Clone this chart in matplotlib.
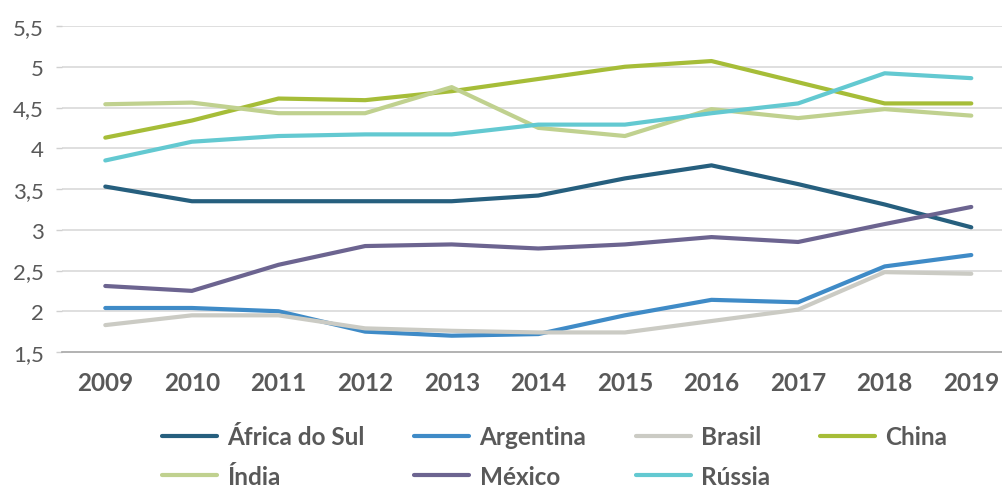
import matplotlib
matplotlib.use("Agg")
import matplotlib.pyplot as plt

plt.rcParams['font.family'] = ['Lato', 'DejaVu Sans']

years = ['2009', '2010', '2011', '2012', '2013', '2014', '2015', '2016', '2017', '2018', '2019']

africa_do_sul = [3.53, 3.35, 3.35, 3.35, 3.35, 3.42, 3.63, 3.79, 3.56, 3.31, 3.03]
argentina = [2.04, 2.04, 2.00, 1.75, 1.70, 1.72, 1.95, 2.14, 2.11, 2.55, 2.69]
brasil = [1.83, 1.95, 1.95, 1.79, 1.76, 1.74, 1.74, 1.88, 2.02, 2.48, 2.46]
china = [4.13, 4.34, 4.61, 4.59, 4.70, 4.85, 5.00, 5.07, 4.81, 4.55, 4.55]
india = [4.54, 4.56, 4.43, 4.43, 4.75, 4.25, 4.15, 4.48, 4.37, 4.48, 4.40]
mexico = [2.31, 2.25, 2.57, 2.80, 2.82, 2.77, 2.82, 2.91, 2.85, 3.07, 3.28]
russia = [3.85, 4.08, 4.15, 4.17, 4.17, 4.29, 4.29, 4.43, 4.55, 4.92, 4.86]

series = [
    ('África do Sul', africa_do_sul, '#265f7e'),
    ('Argentina', argentina, '#3f8bc7'),
    ('Brasil', brasil, '#cbcbc4'),
    ('China', china, '#a6bd38'),
    ('Índia', india, '#c0d18f'),
    ('México', mexico, '#6c6490'),
    ('Rússia', russia, '#63c9d1'),
]

y_ticks = [1.5, 2, 2.5, 3, 3.5, 4, 4.5, 5, 5.5]
y_labels = ['1,5', '2', '2,5', '3', '3,5', '4', '4,5', '5', '5,5']

W, H = 1003, 489
fig = plt.figure(figsize=(W / 100, H / 100), dpi=100)
ax_left, ax_right, ax_top, ax_bottom = 62, 1003, 27, 353
ax = fig.add_axes([ax_left / W, 1 - ax_bottom / H, (ax_right - ax_left) / W, (ax_bottom - ax_top) / H])

x = list(range(len(years)))
lines = {}
for name, vals, color in series:
    ln, = ax.plot(x, vals, color=color, lw=3.0, solid_capstyle='round', solid_joinstyle='round',
                  label=name, zorder=3)
    lines[name] = ln

ax.set_ylim(1.5, 5.5)
ax.set_xlim(-0.5, -0.5 + (ax_right - ax_left) / 86.6)
ax.set_yticks(y_ticks)
ax.set_yticklabels(y_labels)
ax.set_xticks(x)
ax.set_xticklabels(years)

for v in y_ticks[1:]:
    ax.axhline(v, color='#d9d9d9', lw=1.2, zorder=1)

for side in ['top', 'right', 'left']:
    ax.spines[side].set_visible(False)
ax.spines['bottom'].set_color('#a6a6a6')
ax.spines['bottom'].set_linewidth(1.2)

ax.tick_params(axis='y', length=4, width=1, color='#d0d0d0', pad=9,
               labelsize=16, labelcolor='#595959')
ax.tick_params(axis='x', length=0, pad=14, labelsize=17.5, labelcolor='#595959')
for lbl in ax.get_xticklabels():
    lbl.set_fontweight('bold')

# legend entries laid out row by row (matplotlib fills columns first)
order = ['África do Sul', 'Índia', 'Argentina', 'México', 'Brasil', 'Rússia', 'China']
leg = fig.legend([lines[n] for n in order], order,
                 loc='upper left', bbox_to_anchor=(150 / W, 1 - 414 / H), ncol=4,
                 frameon=False, borderpad=0, handlelength=2.26, handletextpad=0.42,
                 columnspacing=2.05, labelspacing=0.68,
                 prop={'size': 17.5, 'weight': 'bold'})
for t in leg.get_texts():
    t.set_color('#595959')
for h in leg.get_lines():
    h.set_linewidth(3.0)
    h.set_solid_capstyle('round')

fig.savefig('out.png', dpi=100)
